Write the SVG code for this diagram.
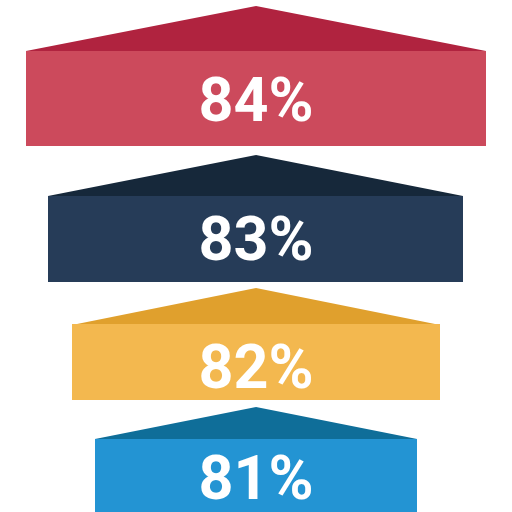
<svg xmlns="http://www.w3.org/2000/svg" width="512" height="512" viewBox="0 0 512 512">
<style>
.lbl{font-family:Roboto,"Liberation Sans",sans-serif;font-weight:bold;font-size:61px;fill:#ffffff;text-anchor:middle}
</style>
<rect width="512" height="512" fill="#ffffff"/>
<g id="level-84">
<polygon points="26,51 256,6 486,51" fill="#B0233F"/>
<rect x="26" y="51" width="460" height="95" fill="#CC4A5C"/>
<text class="lbl" x="256" y="121">84%</text>
</g>
<g id="level-83">
<polygon points="48,196 256,155 463,196" fill="#16283A"/>
<rect x="48" y="196" width="415" height="86" fill="#263C58"/>
<text class="lbl" x="256" y="260">83%</text>
</g>
<g id="level-82">
<polygon points="72,325 256,288 440,325" fill="#E0A02D"/>
<rect x="72" y="324" width="368" height="76" fill="#F3B84F"/>
<text class="lbl" x="256" y="388">82%</text>
</g>
<g id="level-81">
<polygon points="95,439 256,407 417,439" fill="#0F6E99"/>
<rect x="95" y="439" width="322" height="73" fill="#2394D3"/>
<text class="lbl" x="256" y="499">81%</text>
</g>
<g id="connectors"/>
</svg>
